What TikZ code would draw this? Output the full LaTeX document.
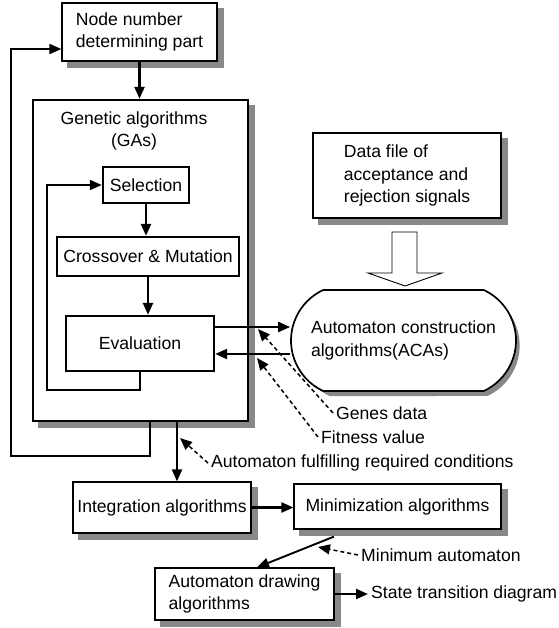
\documentclass[tikz,border=0pt]{standalone}
\usepackage{fontspec}
\setmainfont{Liberation Sans}
\usetikzlibrary{arrows.meta,shapes.misc,backgrounds}

\definecolor{shadowgray}{RGB}{136,136,136}
\tikzset{
  box/.style={draw, fill=white, line width=1.2pt, inner sep=2pt, align=left},
  inbox/.style={draw, fill=white, line width=2.4pt, inner sep=2pt},
  lbl/.style={inner sep=3pt, anchor=west},
  flow/.style={->, line width=2.3pt},
  hint/.style={->, line width=1.5pt, dash pattern=on 4pt off 3pt},
  boxshadow/.style={fill=shadowgray, draw=none},
}

\begin{document}
\begin{tikzpicture}[x=1pt, y=-1pt, font=\fontsize{17.6}{22.5}\selectfont,
  >={Triangle[length=12pt,width=10pt]}]
  \useasboundingbox (0,0) rectangle (558,628);
  % boxes
  \node[box, minimum width=155, minimum height=58] (nodenum) at (139.5,32) {Node number\\determining part};
  \node[box, line width=2.4pt, minimum width=215, minimum height=321] (ga) at (140.5,260.5) {};
  \node[align=center] (galbl) at (134,131) {Genetic algorithms\\(GAs)};
  \node[inbox, minimum width=86, minimum height=36] (sel) at (146,185) {Selection};
  \node[inbox, minimum width=182, minimum height=39] (cross) at (148,256.5) {Crossover \& Mutation};
  \node[inbox, minimum width=148, minimum height=55] (eval) at (140,343.5) {Evaluation};
  \node[box, minimum width=188, minimum height=85] (data) at (407,175.5) {Data file of\\acceptance and\\rejection signals};
  \node[box, rounded rectangle, rounded rectangle arc length=130, line width=1.7pt,
    minimum width=229, minimum height=101] (aca) at (403.5,340.5) {};
  \node[align=left] (acatxt) at (aca.center) {Automaton construction\\algorithms(ACAs)};
  \node[box, minimum width=178, minimum height=51] (integ) at (162,507.5) {Integration algorithms};
  \node[box, minimum width=207, minimum height=45] (mini) at (397.5,506.5) {Minimization algorithms};
  \node[box, minimum width=179, minimum height=52] (drawbox) at (244.5,594) {Automaton drawing\\algorithms};
  % shadows
  \begin{scope}[on background layer]
    \foreach \n in {nodenum,ga,data,integ,mini,drawbox}
      \fill[boxshadow] ([shift={(6pt,-6pt)}]\n.south west) rectangle ([shift={(6pt,-6pt)}]\n.north east);
    \node[boxshadow, rounded rectangle, rounded rectangle arc length=130,
      minimum width=229, minimum height=101] (acashadow) at ([shift={(5pt,-5pt)}]aca.center) {};
  \end{scope}
  % hollow arrow (data file -> ACAs)
  \draw[line width=0.9pt, fill=white] (392,232) -- (417,232) -- (417,273) -- (442,273)
    -- (405,286) -- (368,273) -- (392,273) -- cycle;
  % main flow
  \draw[flow] (nodenum.south) -- (nodenum.south |- ga.north);
  \draw[flow] (sel.south) -- (sel.south |- cross.north);
  \draw[flow] (cross.south) -- (cross.south |- eval.north);
  \coordinate (innerc) at (47,390);
  \draw[flow, line width=1.9pt] (eval.south) |- (innerc) |- (sel.west);
  \coordinate (outerout) at ([xshift=9.5pt]ga.south);
  \coordinate (outerc) at (11,456);
  \coordinate (outerin) at ([yshift=-17pt]nodenum.west);
  \draw[flow, line width=1.9pt] (outerout) |- (outerc) |- (outerin);
  % exchange with ACAs
  \coordinate (evup) at ([yshift=16.5pt]eval.east);
  \coordinate (evdown) at ([yshift=-10.5pt]eval.east);
  \draw[flow] (evup) -- (evup -| aca.west);
  \draw[flow] (evdown -| aca.west) -- (evdown);
  % labels with dashed arrows
  \node[lbl] (genes) at (333,413) {Genes data};
  \coordinate (genestip) at (258,329);
  \draw[hint] (genes.west) -- (genestip);
  \node[lbl] (fitness) at (318,437) {Fitness value};
  \coordinate (fitnesstip) at (257,358);
  \draw[hint] (fitness.west) -- (fitnesstip);
  \node[lbl] (fulfil) at (208,463) {Automaton fulfilling required conditions};
  \coordinate (fulfiltip) at (180,438);
  \draw[hint] (fulfil.west) -- (fulfiltip);
  % lower part
  \coordinate (gaout) at ([xshift=36.5pt]ga.south);
  \draw[flow] (gaout) -- (gaout |- integ.north);
  \draw[flow] (integ.east) -- (integ.east -| mini.west);
  \coordinate (minout) at ([xshift=-63.5pt, yshift=-7pt]mini.south);
  \coordinate (drawin) at ([xshift=12.5pt]drawbox.north);
  \draw[flow, line width=1.9pt] (minout) -- (drawin);
  \node[lbl] (minlbl) at (358,555) {Minimum automaton};
  \coordinate (mintip) at (318,547);
  \draw[hint] (minlbl.west) -- (mintip);
  \node[lbl] (state) at (368,594) {State transition diagram};
  \draw[flow] (drawbox.east) -- (state.west);
\end{tikzpicture}
\end{document}
